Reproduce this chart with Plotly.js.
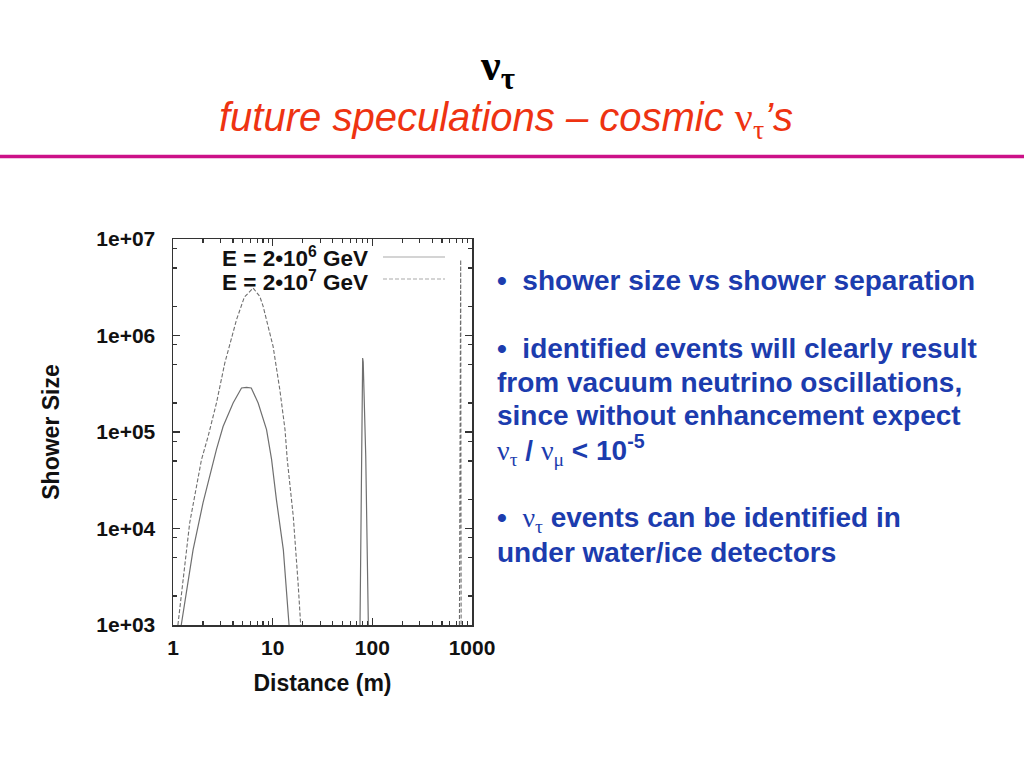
<!DOCTYPE html>
<html>
<head>
<meta charset="utf-8">
<script src="https://cdn.plot.ly/plotly-3.0.1.min.js"></script>
<style>html,body{margin:0;padding:0;background:#fff;}#chart{width:1024px;height:768px;}</style>
</head>
<body>
<div id="chart"></div>
<script>
// ---- data ----
const distance_2e6 = [1.21, 1.59, 2.0, 2.73, 3.18, 4.01, 4.87, 5.47, 6.1, 7.15, 8.68, 9.75, 10.9, 12.8, 14.6, null, 75.2, 78.3, 80.0, 81.0, 85.9, 91.2];
const shower_2e6   = [1e3, 6.0e3, 1.84e4, 6.6e4, 1.14e5, 2.0e5, 2.86e5, 2.9e5, 2.86e5, 2.0e5, 1.06e5, 5.2e4, 1.99e4, 6.0e3, 1e3, null, 1e3, 3.2e5, 5.85e5, 5.3e5, 5.6e4, 1e3];

const distance_2e7 = [1.12, 1.47, 1.93, 2.25, 2.73, 3.31, 4.34, 5.2, 6.37, 7.43, 8.03, 10.1, 11.8, 13.3, 14.0, 16.1, 18.0, 19.1, null, 748, 770, 778];
const shower_2e7   = [1e3, 1.14e4, 5.16e4, 9.0e4, 2.0e5, 5.19e5, 1.46e6, 2.5e6, 3.1e6, 2.54e6, 2.0e6, 7.7e5, 2.74e5, 1.06e5, 5.2e4, 1.33e4, 2.7e3, 1e3, null, 1e3, 6.1e6, 1e3];

const seriesNames = ['E = 2\u202210<sup>6</sup> GeV', 'E = 2\u202210<sup>7</sup> GeV'];

const xTickVals  = [1, 10, 100, 1000];
const xTickText  = ['1', '10', '100', '1000'];
const yTickVals  = [1e3, 1e4, 1e5, 1e6, 1e7];
const yTickText  = ['1e+03', '1e+04', '1e+05', '1e+06', '1e+07'];
const xMinorVals = [2,3,4,5,6,7,8,9,20,30,40,50,60,70,80,90,200,300,400,500,600,700,800,900];
const yMinorVals = [2e3,5e3,8e3,2e4,5e4,8e4,2e5,5e5,8e5,2e6,5e6,8e6];

const headingText  = '<b>\u03bd<sub>\u03c4</sub></b>';
const subtitleText = '<i>future speculations \u2013 cosmic </i><span style="font-family:\'Liberation Serif\'">\u03bd<sub>\u03c4</sub></span><i>\u2019s</i>';
const nu = s => '<span style="font-family:\'Liberation Serif\';font-weight:normal">\u03bd<sub>' + s + '</sub></span>';
const bulletLines = [
  '\u2022\u00a0\u00a0shower size vs shower separation',
  '\u2022\u00a0\u00a0identified events will clearly result',
  'from vacuum neutrino oscillations,',
  'since without enhancement expect',
  nu('\u03c4') + ' / ' + nu('\u03bc') + ' &lt; 10<sup>-5</sup>',
  '\u2022\u00a0\u00a0' + nu('\u03c4') + ' events can be identified in',
  'under water/ice detectors'
];
const bulletY = [280, 348, 382, 415, 450, 519, 552];

// ---- geometry helpers (plot area in page pixels) ----
const L = 173, R = 472, T = 239, B = 625;
const px = v => (v - L) / (R - L);
const py = v => (B - v) / (B - T);

const sans = 'Liberation Sans, Arial, sans-serif';
const curveColor = '#6f6f6f';

const traces = [
  {x: distance_2e6, y: shower_2e6, name: seriesNames[0], type: 'scatter', mode: 'lines',
   connectgaps: false, line: {color: curveColor, width: 1.2}},
  {x: distance_2e7, y: shower_2e7, name: seriesNames[1], type: 'scatter', mode: 'lines',
   connectgaps: false, line: {color: curveColor, width: 1.1, dash: '4px,2px'}}
];

const annotations = [];
annotations.push({xref:'paper', yref:'paper', x: px(497), y: py(68), xanchor:'center', yanchor:'middle',
  text: headingText, showarrow:false, font:{family:'Liberation Serif, serif', size:44, color:'#000'}});
annotations.push({xref:'paper', yref:'paper', x: px(506), y: py(120), xanchor:'center', yanchor:'middle',
  text: subtitleText, showarrow:false, font:{family:sans, size:40, color:'#ee3311'}});
bulletLines.forEach((t, i) => {
  annotations.push({xref:'paper', yref:'paper', x: px(495), y: py(bulletY[i]), xanchor:'left', yanchor:'middle',
    text: '<b>' + t + '</b>', showarrow:false, align:'left', font:{family:sans, size:28, color:'#1c3cae'}});
});
// legend texts (gnuplot-style key)
[257, 281].forEach((yy, i) => {
  annotations.push({xref:'paper', yref:'paper', x: px(370), y: py(yy), xanchor:'right', yanchor:'middle',
    text: '<b>' + seriesNames[i] + '</b>', showarrow:false, font:{family:sans, size:22.5, color:'#111'}});
});

const shapes = [
  {type:'line', xref:'paper', yref:'paper', x0: px(0), x1: px(1024), y0: py(156.5), y1: py(156.5),
   line:{color:'#cc1188', width:3.5}},
  {type:'line', xref:'paper', yref:'paper', x0: px(383), x1: px(445), y0: py(257), y1: py(257),
   line:{color:'#aaaaaa', width:1.2}},
  {type:'line', xref:'paper', yref:'paper', x0: px(383), x1: px(445), y0: py(279), y1: py(279),
   line:{color:'#aaaaaa', width:1.1, dash:'4px,2px'}}
];

const axisCommon = {
  type: 'log', showgrid: false, zeroline: false, showline: true, mirror: 'allticks',
  linecolor: '#333', linewidth: 1.5, ticks: 'inside', ticklen: 7, tickwidth: 1.3, tickcolor: '#333',
  tickmode: 'array', tickfont: {family: sans, size: 21, color: '#111', weight: 'bold'}
};

const layout = {
  width: 1024, height: 768, autosize: false,
  margin: {l: L, r: 1024 - R, t: T, b: 768 - B, pad: 0},
  paper_bgcolor: '#fff', plot_bgcolor: '#fff', showlegend: false,
  xaxis: Object.assign({}, axisCommon, {
    range: [0, 3], tickvals: xTickVals, ticktext: xTickText, ticklabelstandoff: 3,
    minor: {tickmode: 'array', tickvals: xMinorVals, ticks: 'inside', ticklen: 4, tickcolor: '#333', tickwidth: 1.1, showgrid: false},
    title: {text: '<b>Distance (m)</b>', standoff: 17, font: {family: sans, size: 23, color: '#111'}}
  }),
  yaxis: Object.assign({}, axisCommon, {
    range: [3, 7], tickvals: yTickVals, ticktext: yTickText, ticklabelstandoff: 12,
    minor: {tickmode: 'array', tickvals: yMinorVals, ticks: 'inside', ticklen: 4, tickcolor: '#333', tickwidth: 1.1, showgrid: false},
    title: {text: '<b>Shower Size</b>', standoff: 30, font: {family: sans, size: 23, color: '#111'}}
  }),
  annotations: annotations,
  shapes: shapes
};

Plotly.newPlot('chart', traces, layout, {displayModeBar: false, staticPlot: true});
</script>
</body>
</html>
